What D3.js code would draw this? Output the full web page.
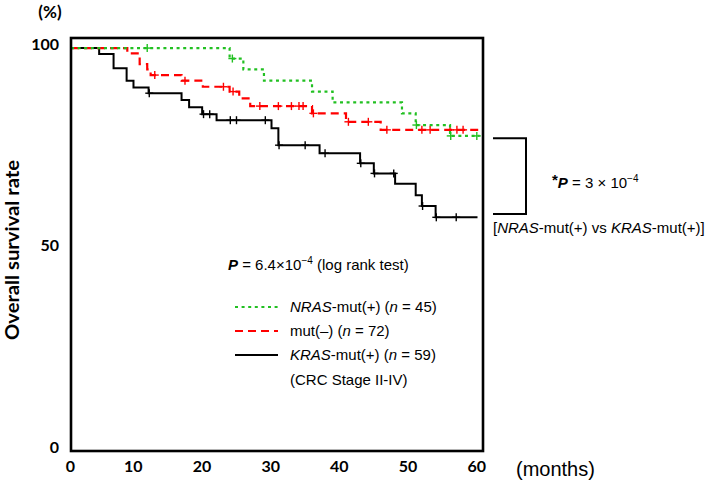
<!DOCTYPE html>
<html><head><meta charset="utf-8">
<script src="https://cdn.jsdelivr.net/npm/d3@7"></script>
<style>body{margin:0;background:#fff} svg{display:block}</style>
</head><body>
<svg id="c" width="709" height="484"></svg>
<script>
// ---- data ----
const xTicks = [0, 10, 20, 30, 40, 50, 60];
const yTicks = [0, 50, 100];

const nrasTimes  = [0, 23.1, 25.1, 28.1, 35.1, 38.1, 48.2, 50.2, 55.2];
const nrasSurv   = [100, 97.4, 94.7, 91.9, 89.2, 86.5, 83.8, 80.9, 78.2];
const nrasEnd    = 59.5;
const nrasCensor = [11.1, 23.5, 50.3, 55.3, 59.1];

const wtTimes  = [0, 8.2, 10.0, 11.1, 11.6, 16.1, 19.2, 23.1, 24.5, 26.1, 35.1, 40.05, 45.1];
const wtSurv   = [100, 98.7, 96.0, 94.7, 93.3, 91.9, 90.4, 89.2, 87.5, 85.6, 83.8, 81.7, 79.7];
const wtEnd    = 59.3;
const wtCensor = [12.2, 16.6, 22.2, 23.6, 27.5, 30.2, 32.1, 33.2, 33.8, 35.3, 40.4, 43.3, 46.0, 51.1, 52.3, 55.2, 56.2, 57.1];

const krasTimes  = [0, 4.1, 6.2, 8.1, 9.1, 11.3, 16.1, 17.2, 19.1, 21.2, 29.2, 30.2, 36.2, 42.1, 44.1, 47.2, 50.2, 51.1, 53.1];
const krasSurv   = [100, 98.5, 95.0, 91.9, 90.2, 88.8, 87.1, 85.3, 83.6, 82.1, 80.1, 75.9, 73.9, 71.4, 68.9, 66.3, 63.5, 60.8, 58.0];
const krasEnd    = 59.2;
const krasCensor = [11.4, 19.3, 20.2, 23.2, 24.1, 28.3, 30.3, 34.1, 37.0, 42.2, 44.2, 47.0, 51.2, 53.2, 56.1];

const legendLabels = [
  {it: "NRAS", rest: "-mut(+) (", n: "n", tail: " = 45)"},
  {it: "", rest: "mut(–) (", n: "n", tail: " = 72)"},
  {it: "KRAS", rest: "-mut(+) (", n: "n", tail: " = 59)"}
];
const bracketVals = [77.6, 58.8];

// ---- layout ----
const svg = d3.select("#c");
const x = d3.scaleLinear().domain([0, 60]).range([71, 483]);
const y = d3.scaleLinear().domain([0, 102.5]).range([451, 38]);

const series = [
  {t: krasTimes, s: krasSurv, end: krasEnd, c: krasCensor, color: "#000000", dash: null, w: 2},
  {t: wtTimes, s: wtSurv, end: wtEnd, c: wtCensor, color: "#ff0000", dash: "8,5", w: 2.2},
  {t: nrasTimes, s: nrasSurv, end: nrasEnd, c: nrasCensor, color: "#22c022", dash: "3,3.6", w: 2.2}
];

const line = d3.line().x(d => x(d[0])).y(d => y(d[1])).curve(d3.curveStepAfter);

function survAt(sr, t) {
  let v = sr.s[0];
  for (let i = 0; i < sr.t.length; i++) if (sr.t[i] <= t) v = sr.s[i];
  return v;
}

series.forEach(sr => {
  const pts = sr.t.map((t, i) => [t, sr.s[i]]);
  pts.push([sr.end, sr.s[sr.s.length - 1]]);
  svg.append("path").attr("d", line(pts)).attr("fill", "none")
    .attr("stroke", sr.color).attr("stroke-width", sr.w)
    .attr("stroke-dasharray", sr.dash);
  const g = svg.append("g").attr("stroke", sr.color).attr("stroke-width", 1.4);
  sr.c.forEach(t => {
    const cx = x(t), cy = y(survAt(sr, t));
    g.append("line").attr("x1", cx).attr("x2", cx).attr("y1", cy - 4).attr("y2", cy + 4);
    g.append("line").attr("x1", cx - 4).attr("x2", cx + 4).attr("y1", cy).attr("y2", cy);
  });
});

// frame
svg.append("rect").attr("x", x(0)).attr("y", y.range()[1])
  .attr("width", x(60) - x(0)).attr("height", y(0) - y.range()[1])
  .attr("fill", "none").attr("stroke", "#000").attr("stroke-width", 2.6);

// axis labels
const tickFont = "Lato, 'Open Sans', sans-serif";
svg.append("g").selectAll("text").data(yTicks).join("text")
  .attr("x", 59).attr("y", d => y(d) - 4).attr("dy", "0.36em")
  .attr("text-anchor", "end").attr("font-family", tickFont).attr("font-weight", "bold")
  .attr("font-size", 16).text(d => d);
svg.append("g").selectAll("text").data(xTicks).join("text")
  .attr("x", d => x(d) + (d === 0 ? 4 : 3)).attr("y", 472)
  .attr("text-anchor", "end").attr("font-family", tickFont).attr("font-weight", "bold")
  .attr("font-size", 16).text(d => d);

svg.append("text").attr("x", 50).attr("y", 18).attr("text-anchor", "middle")
  .attr("font-family", tickFont).attr("font-weight", "bold").attr("font-size", 17).text("(%)");
svg.append("text").attr("transform", "translate(19,250) rotate(-90)")
  .attr("text-anchor", "middle").attr("font-family", tickFont).attr("font-weight", "bold")
  .attr("font-size", 19).attr("textLength", 180).attr("lengthAdjust", "spacingAndGlyphs")
  .text("Overall survival rate");
svg.append("text").attr("x", 516).attr("y", 476).attr("font-family", "'Liberation Sans', Arial, sans-serif")
  .attr("font-size", 20).text("(months)");

const sans = "'Liberation Sans', Arial, Helvetica, sans-serif";

// log-rank text
const t1 = svg.append("text").attr("x", 228).attr("y", 270).attr("font-family", sans).attr("font-size", 15);
t1.append("tspan").attr("font-weight", "bold").attr("font-style", "italic").text("P");
t1.append("tspan").text(" = 6.4×10");
t1.append("tspan").attr("font-size", 10).attr("dy", -6).text("−4");
t1.append("tspan").attr("dy", 6).text(" (log rank test)");

// legend
const legY = [307, 331, 355];
series.slice().reverse().forEach((sr, i) => {
  svg.append("line").attr("x1", 235).attr("x2", 278).attr("y1", legY[i]).attr("y2", legY[i])
    .attr("stroke", sr.color).attr("stroke-width", sr.w).attr("stroke-dasharray", sr.dash);
  const lb = legendLabels[i];
  const tx = svg.append("text").attr("x", 290).attr("y", legY[i] + 5).attr("font-family", sans).attr("font-size", 15);
  if (lb.it) tx.append("tspan").attr("font-style", "italic").text(lb.it);
  tx.append("tspan").text(lb.rest);
  tx.append("tspan").attr("font-style", "italic").text(lb.n);
  tx.append("tspan").text(lb.tail);
});
svg.append("text").attr("x", 290).attr("y", 385).attr("font-family", sans).attr("font-size", 15)
  .text("(CRC Stage II-IV)");

// bracket
const bx0 = 493, bx1 = 526;
svg.append("path")
  .attr("d", `M${bx0},${y(bracketVals[0])}H${bx1}V${y(bracketVals[1])}H${bx0}`)
  .attr("fill", "none").attr("stroke", "#000").attr("stroke-width", 2);

const t2 = svg.append("text").attr("x", 552).attr("y", 188).attr("font-family", sans).attr("font-size", 15);
t2.append("tspan").attr("font-weight", "bold").attr("dy", -3).text("*");
t2.append("tspan").attr("dy", 3).attr("font-weight", "bold").attr("font-style", "italic").text("P");
t2.append("tspan").text(" = 3 × 10");
t2.append("tspan").attr("font-size", 10).attr("dy", -6).text("−4");

const t3 = svg.append("text").attr("x", 493).attr("y", 233).attr("font-family", sans).attr("font-size", 15);
t3.append("tspan").text("[");
t3.append("tspan").attr("font-style", "italic").text("NRAS");
t3.append("tspan").text("-mut(+) vs ");
t3.append("tspan").attr("font-style", "italic").text("KRAS");
t3.append("tspan").text("-mut(+)]");
</script>
</body></html>
